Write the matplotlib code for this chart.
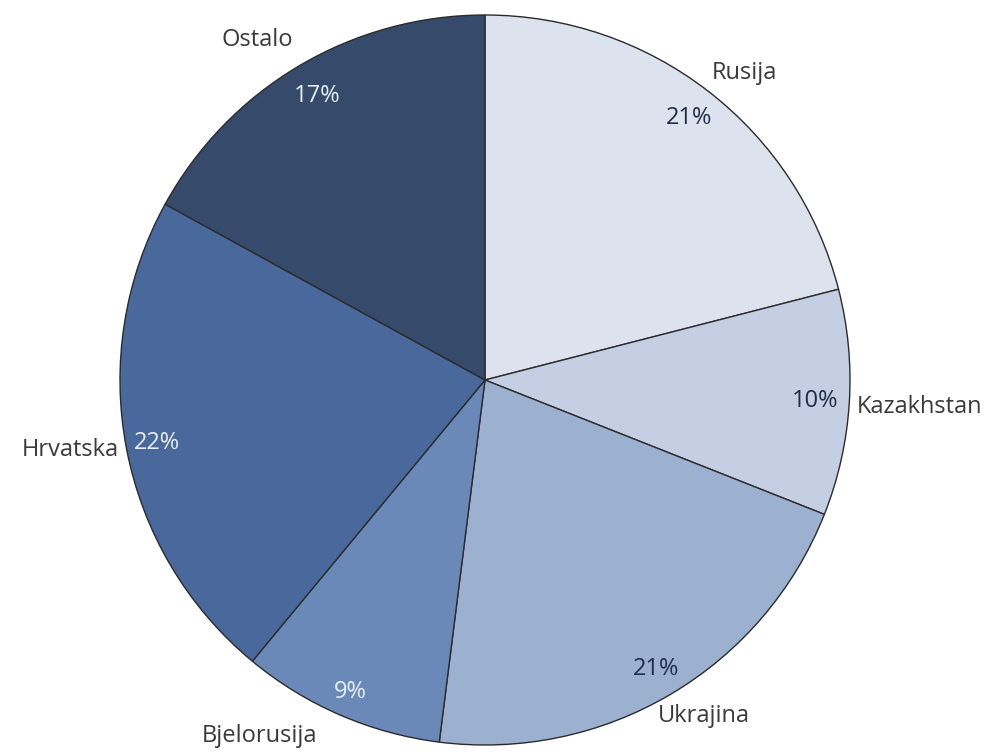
import numpy as np
import matplotlib
matplotlib.use("Agg")
import matplotlib.pyplot as plt

categories = ["Rusija", "Kazakhstan", "Ukrajina", "Bjelorusija", "Hrvatska", "Ostalo"]
shares = [21, 10, 21, 9, 22, 17]
colors = ["#dce3ef", "#c4cfe3", "#9cb0d0", "#6a89b9", "#49689b", "#364b6c"]
pct_colors = ["#1f2d4a", "#1f2d4a", "#1f2d4a", "#e8eef8", "#e8eef8", "#e8eef8"]

# label placement styling (radius factor, angle offset deg, ha)
label_r = [1.10, 1.02, 1.10, 1.155, 1.02, 1.12]
label_off = [-2.4, -0.5, 2.5, -8.9, 0.0, 3.2]
label_ha = ["center", "left", "center", "center", "right", "center"]
pct_r = [0.91, 0.905, 0.92, 0.93, 0.915, 0.905]

fig = plt.figure(figsize=(9.93, 7.52), dpi=100)
ax = fig.add_axes([0, 0, 1, 1])
R = 1.0
wedges, _ = ax.pie(shares, colors=colors, startangle=90, counterclock=False,
                   radius=R, wedgeprops=dict(edgecolor="#2b2b2b", linewidth=1.0))

font = "Open Sans"
fs = 17
total = sum(shares)
start = 90.0
for i, (cat, v) in enumerate(zip(categories, shares)):
    sweep = 360.0 * v / total
    mid = start - sweep / 2
    start -= sweep
    a = np.deg2rad(mid)
    ax.text(pct_r[i] * np.cos(a), pct_r[i] * np.sin(a), f"{v}%",
            ha="center", va="center", fontsize=fs, color=pct_colors[i], family=font)
    b = np.deg2rad(mid + label_off[i])
    ax.text(label_r[i] * np.cos(b), label_r[i] * np.sin(b), cat,
            ha=label_ha[i], va="center", fontsize=fs, color="#3a3a3a", family=font)

s = 365.0
ax.set_aspect("auto")
ax.set_xlim(-485 / s, (993 - 485) / s)
ax.set_ylim(-(752 - 380) / s, 380 / s)
ax.axis("off")
fig.savefig("out.png", dpi=100)
